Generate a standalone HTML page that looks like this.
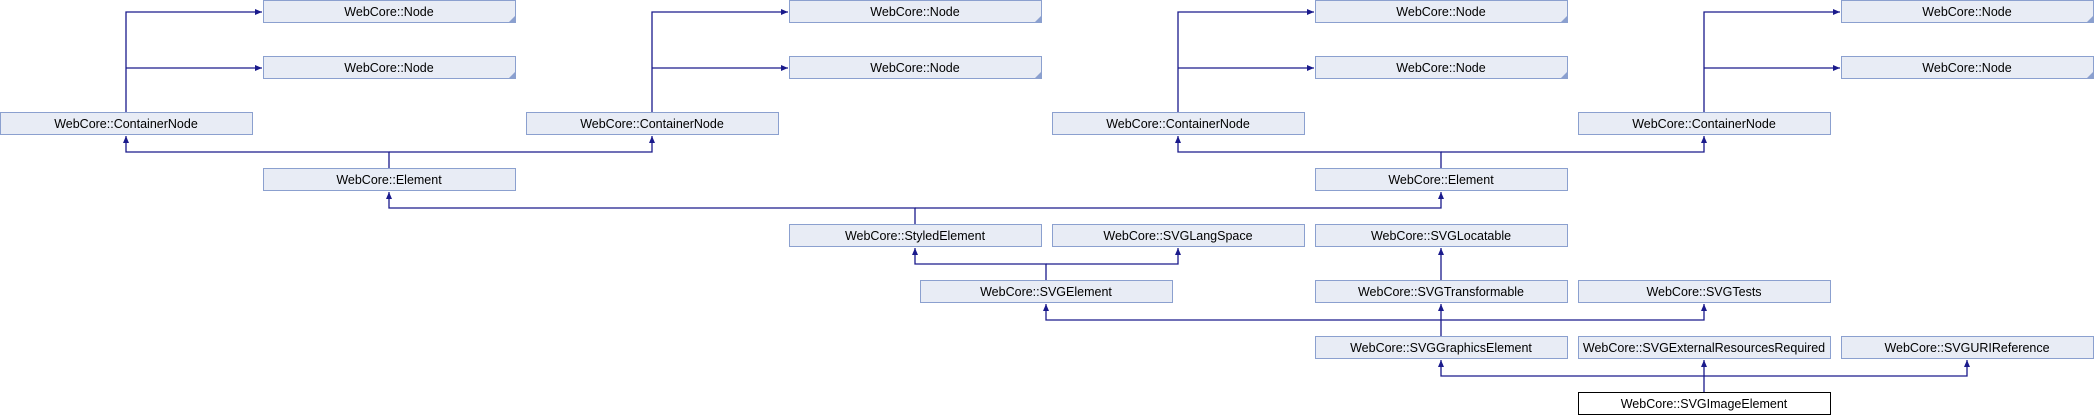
<!DOCTYPE html><html><head><style>body{margin:0;background:#fff}svg{display:block}text{font-family:"Liberation Sans",sans-serif;font-size:12.5px;fill:#000}</style></head><body>
<svg width="2094" height="416" viewBox="0 0 2094 416">
<defs><marker id="a" markerWidth="8" markerHeight="8" refX="7" refY="4" orient="auto" markerUnits="userSpaceOnUse"><path d="M0,1 L7,4 L0,7 Z" fill="#1a1a8c"/></marker></defs>
<g fill="none" stroke="#1a1a8c" stroke-width="1.3">
<path d="M126,112V12H262" marker-end="url(#a)"/><path d="M126,68H262" marker-end="url(#a)"/>
<path d="M652,112V12H788" marker-end="url(#a)"/><path d="M652,68H788" marker-end="url(#a)"/>
<path d="M1178,112V12H1314" marker-end="url(#a)"/><path d="M1178,68H1314" marker-end="url(#a)"/>
<path d="M1704,112V12H1840" marker-end="url(#a)"/><path d="M1704,68H1840" marker-end="url(#a)"/>
<path d="M389,168V152H126V136" marker-end="url(#a)"/><path d="M389,152H652V136" marker-end="url(#a)"/>
<path d="M1441,168V152H1178V136" marker-end="url(#a)"/><path d="M1441,152H1704V136" marker-end="url(#a)"/>
<path d="M915,224V208H389V192" marker-end="url(#a)"/><path d="M915,208H1441V192" marker-end="url(#a)"/>
<path d="M1046,280V264H915V248" marker-end="url(#a)"/><path d="M1046,264H1178V248" marker-end="url(#a)"/>
<path d="M1441,280V248" marker-end="url(#a)"/>
<path d="M1441,336V304" marker-end="url(#a)"/>
<path d="M1441,320H1046V304" marker-end="url(#a)"/><path d="M1441,320H1704V304" marker-end="url(#a)"/>
<path d="M1704,392V376H1441V360" marker-end="url(#a)"/><path d="M1704,376V360" marker-end="url(#a)"/><path d="M1704,376H1967V360" marker-end="url(#a)"/>
</g>
<g stroke="#8ba0cf" fill="#e8ecf5" stroke-width="1">
<rect x="263.5" y="0.5" width="252" height="22"/><rect x="789.5" y="0.5" width="252" height="22"/><rect x="1315.5" y="0.5" width="252" height="22"/><rect x="1841.5" y="0.5" width="252" height="22"/>
<rect x="263.5" y="56.5" width="252" height="22"/><rect x="789.5" y="56.5" width="252" height="22"/><rect x="1315.5" y="56.5" width="252" height="22"/><rect x="1841.5" y="56.5" width="252" height="22"/>
<rect x="0.5" y="112.5" width="252" height="22"/><rect x="526.5" y="112.5" width="252" height="22"/><rect x="1052.5" y="112.5" width="252" height="22"/><rect x="1578.5" y="112.5" width="252" height="22"/>
<rect x="263.5" y="168.5" width="252" height="22"/><rect x="1315.5" y="168.5" width="252" height="22"/>
<rect x="789.5" y="224.5" width="252" height="22"/><rect x="1052.5" y="224.5" width="252" height="22"/><rect x="1315.5" y="224.5" width="252" height="22"/>
<rect x="920.5" y="280.5" width="252" height="22"/><rect x="1315.5" y="280.5" width="252" height="22"/><rect x="1578.5" y="280.5" width="252" height="22"/>
<rect x="1315.5" y="336.5" width="252" height="22"/><rect x="1578.5" y="336.5" width="252" height="22"/><rect x="1841.5" y="336.5" width="252" height="22"/>
</g>
<g fill="#8ba0cf"><path d="M515,16V22H509Z"/><path d="M1041,16V22H1035Z"/><path d="M1567,16V22H1561Z"/><path d="M2093,16V22H2087Z"/><path d="M515,72V78H509Z"/><path d="M1041,72V78H1035Z"/><path d="M1567,72V78H1561Z"/><path d="M2093,72V78H2087Z"/></g>
<rect x="1578.5" y="392.5" width="252" height="22" fill="#fff" stroke="#000"/>
<g text-anchor="middle">
<text x="389" y="16">WebCore::Node</text><text x="915" y="16">WebCore::Node</text><text x="1441" y="16">WebCore::Node</text><text x="1967" y="16">WebCore::Node</text>
<text x="389" y="72">WebCore::Node</text><text x="915" y="72">WebCore::Node</text><text x="1441" y="72">WebCore::Node</text><text x="1967" y="72">WebCore::Node</text>
<text x="126" y="128">WebCore::ContainerNode</text><text x="652" y="128">WebCore::ContainerNode</text><text x="1178" y="128">WebCore::ContainerNode</text><text x="1704" y="128">WebCore::ContainerNode</text>
<text x="389" y="184">WebCore::Element</text><text x="1441" y="184">WebCore::Element</text>
<text x="915" y="240">WebCore::StyledElement</text><text x="1178" y="240">WebCore::SVGLangSpace</text><text x="1441" y="240">WebCore::SVGLocatable</text>
<text x="1046" y="296">WebCore::SVGElement</text><text x="1441" y="296">WebCore::SVGTransformable</text><text x="1704" y="296">WebCore::SVGTests</text>
<text x="1441" y="352">WebCore::SVGGraphicsElement</text><text x="1704" y="352">WebCore::SVGExternalResourcesRequired</text><text x="1967" y="352">WebCore::SVGURIReference</text>
<text x="1704" y="408">WebCore::SVGImageElement</text>
</g>
</svg></body></html>
